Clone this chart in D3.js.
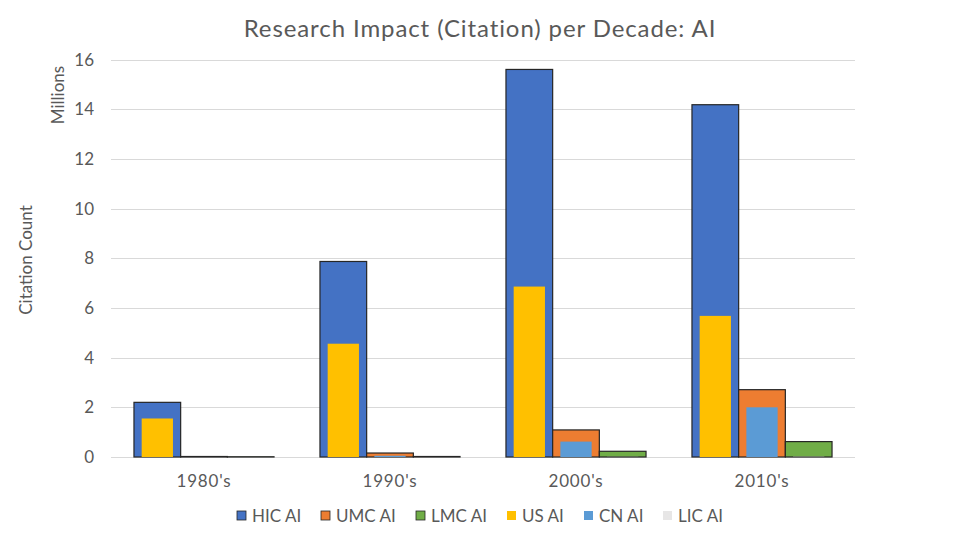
<!DOCTYPE html>
<html>
<head>
<meta charset="utf-8">
<script src="https://cdn.jsdelivr.net/npm/d3@7"></script>
<style>
  body { margin: 0; background: #fff; }
  text { font-family: Lato, "Open Sans", sans-serif; fill: #595959; }
</style>
</head>
<body>
<div id="chart"></div>
<script>
// Width and height
var w = 955;
var h = 537;

// data (millions of citations)
var decades = ["1980's", "1990's", "2000's", "2010's"];
var primaryNames = ["HIC AI", "UMC AI", "LMC AI"];
var secondaryNames = ["US AI", "CN AI", "LIC AI"];
var hicValues = [2.2, 7.87, 15.6, 14.18];
var umcValues = [0.02, 0.16, 1.09, 2.71];
var lmcValues = [0.01, 0.02, 0.23, 0.62];
var usValues  = [1.55, 4.56, 6.86, 5.68];
var cnValues  = [0.0, 0.05, 0.62, 2.0];
var licValues = [0.0, 0.0, 0.005, 0.01];
var yTicks = [0, 2, 4, 6, 8, 10, 12, 14, 16];

var colors = {
  "HIC AI": "#4472C4", "UMC AI": "#ED7D31", "LMC AI": "#70AD47",
  "US AI": "#FFC000", "CN AI": "#5B9BD5", "LIC AI": "#E7E6E6"
};

var primary = [hicValues, umcValues, lmcValues];
var secondary = [usValues, cnValues, licValues];

var svg = d3.select("#chart")
  .append("svg")
  .attr("width", w)
  .attr("height", h);

// scales
var x0 = d3.scaleBand()
  .domain(decades)
  .range([111, 855])
  .paddingInner(0.247)
  .paddingOuter(0.1235);

var x1 = d3.scaleBand()
  .domain([0, 1, 2])
  .range([0, x0.bandwidth()]);

var y = d3.scaleLinear()
  .domain([0, 16])
  .range([457, 59.5]);

// gridlines
svg.selectAll(".grid")
  .data(yTicks)
  .enter()
  .append("line")
  .attr("x1", 111)
  .attr("x2", 855)
  .attr("y1", function(d) { return Math.round(y(d)) + 0.5; })
  .attr("y2", function(d) { return Math.round(y(d)) + 0.5; })
  .attr("stroke", "#D9D9D9")
  .attr("stroke-width", 1);

// y tick labels
svg.selectAll(".ytick")
  .data(yTicks)
  .enter()
  .append("text")
  .attr("x", 94)
  .attr("y", function(d) { return y(d); })
  .attr("dy", "0.36em")
  .attr("font-size", "17px")
  .style("text-anchor", "end")
  .text(function(d) { return d; });

// primary bars (wide, outlined)
var groups = svg.selectAll(".decade")
  .data(decades)
  .enter()
  .append("g")
  .attr("class", "decade")
  .attr("transform", function(d) { return "translate(" + x0(d) + ",0)"; });

groups.selectAll(".pbar")
  .data(function(d, i) {
    return primary.map(function(s, k) { return { k: k, v: s[i], name: primaryNames[k] }; });
  })
  .enter()
  .append("rect")
  .attr("class", "pbar")
  .attr("x", function(d) { return x1(d.k); })
  .attr("width", x1.bandwidth())
  .attr("y", function(d) { return y(d.v); })
  .attr("height", function(d) { return y(0) - y(d.v); })
  .style("fill", function(d) { return colors[d.name]; })
  .style("stroke", "#262626")
  .style("stroke-width", 1.2);

// secondary bars (narrow, overlapping)
var sw = x1.bandwidth() * 0.67;
groups.selectAll(".sbar")
  .data(function(d, i) {
    return secondary.map(function(s, k) { return { k: k, v: s[i], name: secondaryNames[k] }; });
  })
  .enter()
  .append("rect")
  .attr("class", "sbar")
  .attr("x", function(d) { return x1(d.k) + (x1.bandwidth() - sw) / 2; })
  .attr("width", sw)
  .attr("y", function(d) { return y(d.v); })
  .attr("height", function(d) { return y(0) - y(d.v); })
  .style("fill", function(d) { return colors[d.name]; });

// x labels
svg.selectAll(".xlabel")
  .data(decades)
  .enter()
  .append("text")
  .attr("x", function(d) { return x0(d) + x0.bandwidth() / 2; })
  .attr("y", 487)
  .attr("font-size", "17px")
  .attr("letter-spacing", "0.8px")
  .style("text-anchor", "middle")
  .text(function(d) { return d; });

// title
svg.append("text")
  .attr("x", 480)
  .attr("y", 37)
  .attr("font-size", "24px")
  .attr("letter-spacing", "0.9px")
  .style("text-anchor", "middle")
  .text("Research Impact (Citation) per Decade: AI");

// axis titles
svg.append("text")
  .attr("transform", "translate(64,95) rotate(-90)")
  .attr("font-size", "17px")
  .style("text-anchor", "middle")
  .text("Millions");

svg.append("text")
  .attr("transform", "translate(32,260) rotate(-90)")
  .attr("font-size", "17px")
  .style("text-anchor", "middle")
  .text("Citation Count");

// legend
var legendItems = ["HIC AI", "UMC AI", "LMC AI", "US AI", "CN AI", "LIC AI"];
var legendX = [237, 321, 416, 507, 584, 663];
var legend = svg.selectAll(".legend")
  .data(legendItems)
  .enter()
  .append("g")
  .attr("class", "legend")
  .attr("transform", function(d, i) { return "translate(" + legendX[i] + ",511)"; });

legend.append("rect")
  .attr("width", 9)
  .attr("height", 9)
  .style("fill", function(d) { return colors[d]; })
  .style("stroke", function(d, i) { return i < 3 ? "#262626" : "none"; })
  .style("stroke-width", 0.8);

legend.append("text")
  .attr("x", 15)
  .attr("y", 5)
  .attr("dy", "0.36em")
  .attr("font-size", "17px")
  .text(function(d) { return d; });
</script>
</body>
</html>
